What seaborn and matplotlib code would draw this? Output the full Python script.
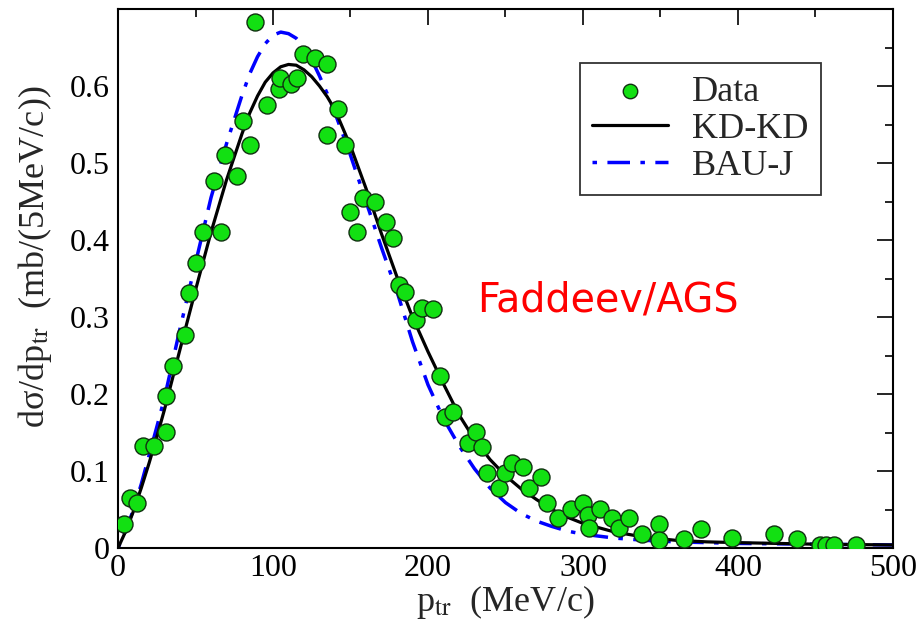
import numpy as np
import pandas as pd
import seaborn as sns
import matplotlib
matplotlib.use("Agg")
import matplotlib.pyplot as plt
from matplotlib.ticker import MultipleLocator

# ---- data ----
data_x = [4, 8, 12, 16, 23, 31, 31, 35.5, 43, 46, 50, 55, 62, 66.5, 69, 77, 80.7, 85,
          88.4, 96, 104, 104.6, 111.7, 115.6, 119.5, 127, 135, 135, 142, 146.5, 150,
          154, 158, 166, 173, 177.5, 181, 185, 192, 196, 203, 208, 211, 216, 226, 231,
          235, 238, 246, 250, 254, 261, 265, 273, 277, 284, 292, 300, 303, 304, 311,
          319, 323, 330, 338, 349, 349, 365, 376, 396, 423, 438, 453, 457, 462, 476]
data_y = [0.031, 0.065, 0.058, 0.132, 0.132, 0.151, 0.197, 0.237, 0.277, 0.331, 0.370,
          0.411, 0.476, 0.411, 0.510, 0.483, 0.554, 0.523, 0.683, 0.575, 0.596, 0.610,
          0.602, 0.610, 0.642, 0.637, 0.629, 0.537, 0.570, 0.523, 0.436, 0.411, 0.455,
          0.450, 0.423, 0.403, 0.342, 0.332, 0.296, 0.312, 0.311, 0.224, 0.170, 0.177,
          0.137, 0.151, 0.131, 0.098, 0.078, 0.098, 0.111, 0.105, 0.078, 0.092, 0.059,
          0.039, 0.051, 0.059, 0.043, 0.026, 0.051, 0.039, 0.026, 0.039, 0.018, 0.031,
          0.010, 0.012, 0.025, 0.013, 0.018, 0.012, 0.004, 0.004, 0.004, 0.004]

kd_x = [0, 5, 10, 15, 20, 25, 30, 40, 50, 60, 70, 80, 85, 90, 95, 100, 105, 110, 115,
        120, 125, 130, 135, 140, 150, 160, 170, 180, 190, 200, 210, 220, 230, 240, 250,
        260, 270, 280, 290, 300, 320, 340, 360, 380, 400, 450, 500]
kd_y = [0.0, 0.022, 0.048, 0.078, 0.11, 0.144, 0.18, 0.258, 0.335, 0.41, 0.478, 0.538,
        0.565, 0.587, 0.605, 0.617, 0.625, 0.628, 0.627, 0.621, 0.612, 0.600, 0.586,
        0.569, 0.522, 0.467, 0.408, 0.352, 0.300, 0.255, 0.213, 0.173, 0.141, 0.115,
        0.094, 0.077, 0.063, 0.050, 0.040, 0.032, 0.021, 0.014, 0.010, 0.008, 0.007,
        0.005, 0.004]

bau_x = [0, 5, 10, 15, 20, 25, 30, 40, 50, 60, 70, 80, 85, 90, 95, 100, 105, 110, 115,
         120, 125, 130, 135, 140, 150, 160, 170, 180, 190, 200, 210, 220, 230, 240, 250,
         260, 270, 280, 290, 300, 320, 340, 360, 400, 450, 500]
bau_y = [0.0, 0.023, 0.05, 0.083, 0.12, 0.157, 0.195, 0.285, 0.37, 0.455, 0.525, 0.588,
         0.616, 0.638, 0.655, 0.666, 0.670, 0.668, 0.662, 0.651, 0.634, 0.613, 0.590,
         0.565, 0.51, 0.45, 0.39, 0.333, 0.268, 0.212, 0.168, 0.133, 0.103, 0.078,
         0.059, 0.045, 0.035, 0.028, 0.022, 0.018, 0.013, 0.010, 0.008, 0.006, 0.005,
         0.004]

series_labels = ["Data", "KD-KD", "BAU-J"]
annotation = "Faddeev/AGS"

sns.set_theme(style="white")
plt.rcParams["font.family"] = ["Liberation Serif", "DejaVu Serif"]
plt.rcParams["mathtext.fontset"] = "stix"

fig = plt.figure(figsize=(9.22, 6.34), dpi=100)
ax = fig.add_axes([0.128, 0.1356, 0.8405, 0.8502])

df_kd = pd.DataFrame({"x": kd_x, "y": kd_y})
df_bau = pd.DataFrame({"x": bau_x, "y": bau_y})
df_data = pd.DataFrame({"x": data_x, "y": data_y})

sns.lineplot(data=df_kd, x="x", y="y", ax=ax, color="black", lw=2.3,
             label=series_labels[1], zorder=3, sort=False)
sns.lineplot(data=df_bau, x="x", y="y", ax=ax, color="#0000ff", lw=2.5,
             label=series_labels[2], zorder=2, sort=False)
ax.lines[-1].set_dashes([1.3, 3, 6.5, 3])
sns.scatterplot(data=df_data, x="x", y="y", ax=ax, s=150, color="#12e012",
                edgecolor="#103010", linewidth=1.0, label=series_labels[0], zorder=4)

ax.set_xlim(0, 500)
ax.set_ylim(0, 0.7)
ax.xaxis.set_major_locator(MultipleLocator(100))
ax.xaxis.set_minor_locator(MultipleLocator(50))
ax.yaxis.set_minor_locator(MultipleLocator(0.05))
ax.set_yticks([0, 0.1, 0.2, 0.3, 0.4, 0.5, 0.6])
ax.set_yticklabels(["0", "0.1", "0.2", "0.3", "0.4", "0.5", "0.6"])
ax.tick_params(which="both", direction="in", top=True, right=True,
               labelsize=23, width=1.2, colors="black")
ax.tick_params(axis="x", pad=4)
ax.tick_params(axis="y", pad=6)
ax.tick_params(which="major", length=11.5)
ax.tick_params(which="minor", length=5.8)
for sp in ax.spines.values():
    sp.set_linewidth(1.5)
    sp.set_color("black")

ax.set_xlabel(r"p$_{\mathrm{tr}}$  (MeV/c)", fontsize=26, labelpad=0)
ax.set_ylabel(r"dσ/dp$_{\mathrm{tr}}$  (mb/(5MeV/c))", fontsize=26)
ax.yaxis.set_label_coords(-0.083, 0.54)

ax.text(232, 0.322, annotation, color="red", fontsize=28.5,
        family=["DejaVu Sans"], va="center", ha="left")

handles, labels = ax.get_legend_handles_labels()
order = [labels.index(l) for l in series_labels]
leg = ax.legend([handles[i] for i in order], [labels[i] for i in order],
                loc="upper right", bbox_to_anchor=(0.907, 0.90),
                fontsize=26, frameon=True, fancybox=False, edgecolor="black",
                handlelength=2.1, borderpad=0.35, labelspacing=0.1,
                handletextpad=0.65, borderaxespad=0, markerscale=0.85)
leg.get_frame().set_linewidth(1.3)

fig.savefig("out.png", dpi=100)
